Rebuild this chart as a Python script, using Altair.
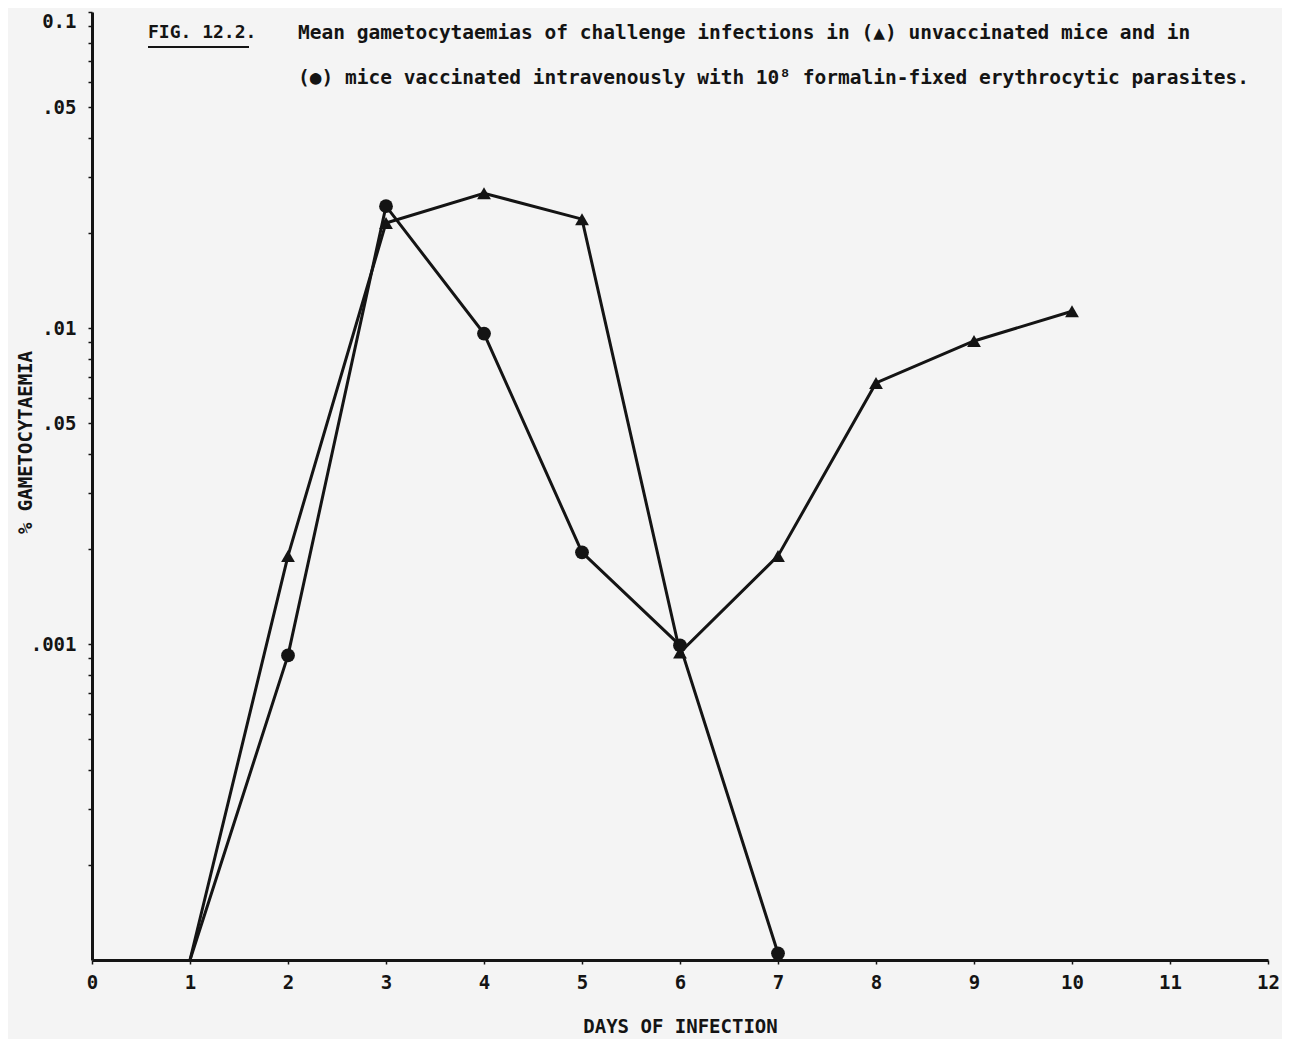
import altair as alt
import pandas as pd

# ---- data ----
# zero gametocytaemia is drawn on the axis floor (0.0001)
tri_days = [1, 2, 3, 4, 5, 6, 7, 8, 9, 10]
tri_vals = [0.0001, 0.0019, 0.0215, 0.0267, 0.0221, 0.00094, 0.0019, 0.0067, 0.0091, 0.0113]
cir_days = [1, 2, 3, 4, 5, 6, 7]
cir_vals = [0.0001, 0.00092, 0.0243, 0.0096, 0.00195, 0.00099, 0.000105]

x_ticks = [0, 1, 2, 3, 4, 5, 6, 7, 8, 9, 10, 11, 12]
y_major = [0.1, 0.05, 0.01, 0.005, 0.001]
y_major_labels = ["0.1", ".05", ".01", ".05", ".001"]
y_minor = [0.0002, 0.0003, 0.0004, 0.0005, 0.0006, 0.0007, 0.0008, 0.0009,
           0.001, 0.002, 0.003, 0.004, 0.005, 0.006, 0.007, 0.008, 0.009,
           0.01, 0.02, 0.03, 0.04, 0.05, 0.06, 0.07, 0.08, 0.09, 0.1]

title_fig = "FIG. 12.2."
title_line1 = "Mean gametocytaemias of challenge infections in (\u25B2) unvaccinated mice and in"
title_line2 = "(\u25CF) mice vaccinated intravenously with 10\u2078 formalin-fixed erythrocytic parasites."

df = pd.concat([
    pd.DataFrame({"day": tri_days, "value": tri_vals, "group": "unvaccinated"}),
    pd.DataFrame({"day": cir_days, "value": cir_vals, "group": "vaccinated"}),
], ignore_index=True)

FONT = "DejaVu Sans Mono"
INK = "#141414"

label_expr = " : ".join(
    f"datum.value == {v} ? '{l}'" for v, l in zip(y_major, y_major_labels)
) + " : ''"

x_enc = alt.X("day:Q",
              scale=alt.Scale(domain=[0, 12], nice=False, zero=False),
              axis=alt.Axis(values=x_ticks, title="DAYS OF INFECTION", format="d",
                            labelFlush=False, labelPadding=9,
                            titleY=66, titleBaseline="middle"))
y_enc = alt.Y("value:Q",
              scale=alt.Scale(type="log", domain=[0.0001, 0.1], nice=False),
              axis=alt.Axis(values=y_minor, labelExpr=label_expr,
                            labelFlush=False,
                            labelBaseline={"condition": {"test": "datum.value == 0.1", "value": "top"},
                                           "value": "middle"},
                            title="% GAMETOCYTAEMIA", titleX=-67, titleY=430,
                            titleAngle=270, titleAlign="center", titleBaseline="middle",
                            labelPadding=12))

base = alt.Chart(df)

lines = base.mark_line(color=INK, strokeWidth=3).encode(
    x=x_enc, y=y_enc, detail="group:N")

points = base.transform_filter("datum.day > 1").mark_point(
    filled=True, opacity=1, color=INK, size=190).encode(
    x="day:Q", y="value:Q",
    shape=alt.Shape("group:N",
                    scale=alt.Scale(domain=["unvaccinated", "vaccinated"],
                                    range=["triangle-up", "circle"]),
                    legend=None))

one = alt.Chart(pd.DataFrame({"k": [0]}))
t_fig = one.mark_text(text=title_fig, font=FONT, fontSize=18, fontWeight="bold", color=INK,
                      align="left", baseline="middle").encode(
    x=alt.value(56), y=alt.value(21))
t_underline = one.mark_rule(color=INK, strokeWidth=2.2).encode(
    x=alt.value(56), x2=alt.value(157), y=alt.value(35))
t_l1 = one.mark_text(text=title_line1, font=FONT, fontSize=19.5, fontWeight="bold", color=INK,
                     align="left", baseline="middle").encode(
    x=alt.value(206), y=alt.value(21))
t_l2 = one.mark_text(text=title_line2, font=FONT, fontSize=19.5, fontWeight="bold", color=INK,
                     align="left", baseline="middle").encode(
    x=alt.value(206), y=alt.value(66))

chart = alt.layer(lines, points, t_fig, t_underline, t_l1, t_l2).properties(
    width=1176, height=948,
    autosize=alt.AutoSizeParams(type="none"),
    padding={"left": 84, "top": 4, "right": 14, "bottom": 79},
    background="#f4f4f4",
).configure_view(stroke=None).configure_axis(
    domainColor=INK, domainWidth=3, tickColor=INK, tickWidth=1.5, tickSize=4,
    grid=False, labelFont=FONT, labelFontSize=19, labelFontWeight="bold", labelColor=INK,
    titleFont=FONT, titleFontSize=19, titleColor=INK, titleFontWeight="bold",
)

chart.save("out.html", embed_options={"renderer": "svg", "actions": False})
